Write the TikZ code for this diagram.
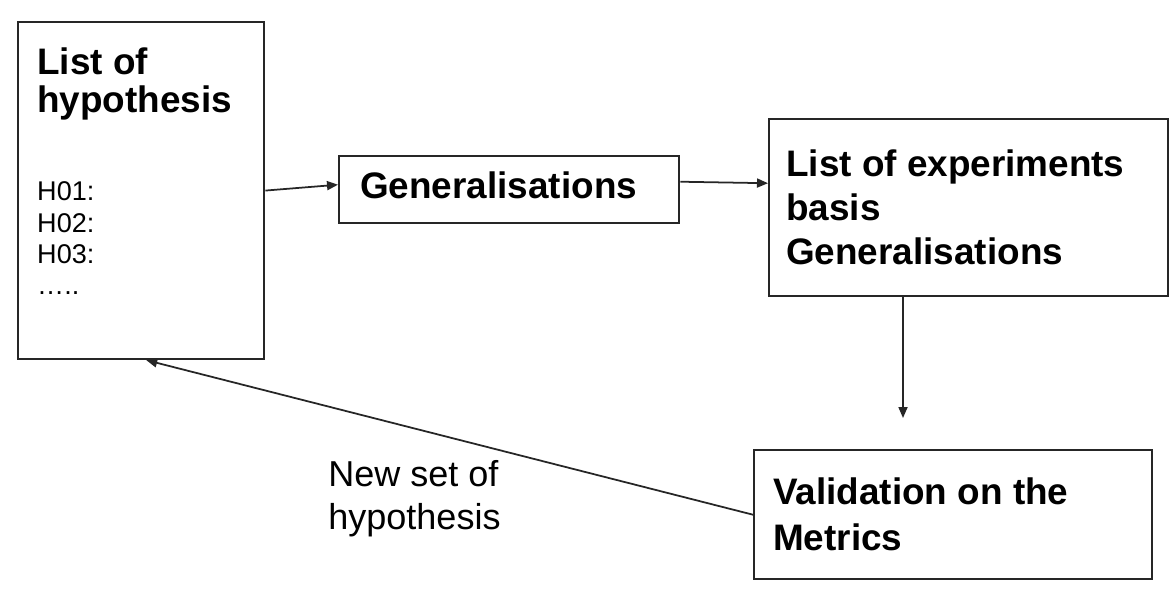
\documentclass[tikz,border=0pt]{standalone}
\usepackage{fontspec}
\setmainfont{Liberation Sans}
\definecolor{boxline}{RGB}{38, 38, 38}
\usepackage{tikz}
\usetikzlibrary{arrows.meta, positioning, calc}

\begin{document}
\begin{tikzpicture}[x=0.02cm, y=-0.02cm,
    box/.style={draw=boxline, line width=1.4pt, rectangle, anchor=north west, align=flush left, inner ysep=0pt},
    flow/.style={-{Triangle[length=0.22cm, width=0.18cm]}, draw=boxline, line width=1pt}]
  \useasboundingbox (0, 0) rectangle (1174, 592);

  % List of hypothesis
  \node[box, text width=4.16cm, inner xsep=0.38cm, inner ysep=0.52cm, text depth=5.16cm] (hyplist) at (17, 21) {%
    {\fontsize{21}{21.6}\selectfont\bfseries List of\\hypothesis\par}%
    \vspace{32pt}%
    {\fontsize{15.4}{17.9}\selectfont H01:\\H02:\\H03:\\…..\par}%
  };

  % Generalisations
  \node[box, minimum width=6.8cm, minimum height=1.34cm, text width=5.96cm, inner xsep=0.42cm, text depth=0.2cm,
    font=\fontsize{21}{25}\selectfont\bfseries] (genbox) at (338, 155) {Generalisations};

  % List of experiments
  \node[box, minimum width=7.98cm, minimum height=3.54cm, text width=7.3cm, inner xsep=0.34cm,
    font=\fontsize{21}{25}\selectfont\bfseries] (explist) at (768, 118) {List of experiments\\basis\\Generalisations};

  % Validation
  \node[box, minimum width=7.96cm, minimum height=2.58cm, text width=7.2cm, inner xsep=0.38cm,
    font=\fontsize{21}{26.2}\selectfont\bfseries] (valbox) at (753, 449) {Validation on the\\Metrics};

  \coordinate (valtip) at (903, 418);

  % Flow between the boxes
  \draw[flow] (hyplist.east) -- ([yshift=0.1cm]genbox.west);
  \draw[flow] ([yshift=0.16cm]genbox.east) -- ([yshift=0.49cm]explist.west);
  \draw[flow] (valtip |- explist.south) -- (valtip);
  \draw[flow] (valbox.west) -- ([xshift=0.1cm]hyplist.south);

  % Feedback label
  \node[anchor=north west, inner sep=0pt, align=flush left, font=\fontsize{20.5}{24.5}\selectfont] (newset) at (328, 460) {New set of\\hypothesis};
\end{tikzpicture}
\end{document}
